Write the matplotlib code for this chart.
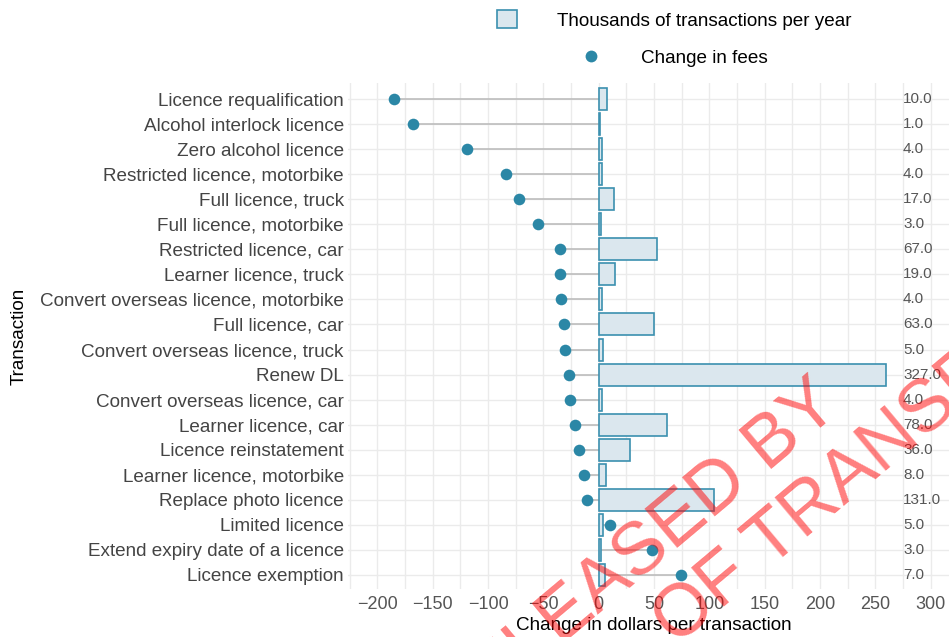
import matplotlib
matplotlib.use("Agg")
import matplotlib.pyplot as plt
from matplotlib.patches import Patch
from matplotlib.lines import Line2D

plt.rcParams["font.family"] = ["Liberation Sans", "DejaVu Sans"]

transactions = [
    "Licence requalification",
    "Alcohol interlock licence",
    "Zero alcohol licence",
    "Restricted licence, motorbike",
    "Full licence, truck",
    "Full licence, motorbike",
    "Restricted licence, car",
    "Learner licence, truck",
    "Convert overseas licence, motorbike",
    "Full licence, car",
    "Convert overseas licence, truck",
    "Renew DL",
    "Convert overseas licence, car",
    "Learner licence, car",
    "Licence reinstatement",
    "Learner licence, motorbike",
    "Replace photo licence",
    "Limited licence",
    "Extend expiry date of a licence",
    "Licence exemption",
]
fee_change = [-185, -168, -119, -84, -72, -55, -35, -35, -34, -31,
              -30, -27, -26, -21, -18, -13, -11, 10, 48, 74]
volume_k = [10, 1, 4, 4, 17, 3, 67, 19, 4, 63,
            5, 327, 4, 78, 36, 8, 131, 5, 3, 7]
x_ticks = [-200, -150, -100, -50, 0, 50, 100, 150, 200, 250, 300]

DOT = "#2b87a6"
BAR_FILL = "#dbe7ee"
BAR_EDGE = "#3b90af"
GRID = "#ebebeb"
STEM = "#bdbdbd"
FS = 13.6

fig = plt.figure(figsize=(9.49, 6.37), dpi=100)
ax = fig.add_axes([348 / 949, 48 / 637, 601 / 949, 506 / 637])

rows = list(range(len(transactions)))
xmin, xmax = -226.5, 316.5

# grid: every 25 on x, one line per row
ax.set_xticks(x_ticks)
ax.set_xticks([t + 25 for t in range(-250, 326, 50)], minor=True)
ax.grid(True, which="both", color=GRID, lw=1.0, zorder=0)
ax.set_axisbelow(True)

# stems and dots
ax.hlines(rows, 0, fee_change, color=STEM, lw=1.2, zorder=1)
ax.scatter(fee_change, rows, s=70, color=DOT, zorder=3, linewidths=0)

# volumes as text on the right
for i, v in enumerate(volume_k):
    ax.text(275, i, f"{v:.1f}", ha="left", va="center", fontsize=11, color="#555555")

ax.set_xlim(xmin, xmax)
ax.set_yticks(rows)
ax.set_yticklabels(transactions)
ax.set_ylim(19.56, -0.64)
ax.tick_params(axis="both", length=0, which="both")
ax.tick_params(axis="y", labelsize=FS, labelcolor="#444444", pad=3)
ax.tick_params(axis="x", labelsize=13, labelcolor="#555555", pad=5)
for sp in ax.spines.values():
    sp.set_visible(False)

ax.set_xlabel("Change in dollars per transaction", fontsize=FS, color="black")
ax.xaxis.set_label_coords((654 - 348) / 601, -(617 - 589) / 506)
ax.set_ylabel("Transaction", fontsize=FS, color="black")
ax.yaxis.set_label_coords(-(348 - 28) / 601, 0.5)

# bars on their own x scale: 327k lands near 260 on the fee axis
bar_scale = 0.793
ax2 = ax.twiny()
ax2.set_xlim(xmin / bar_scale, xmax / bar_scale)
ax2.barh(rows, volume_k, height=0.88, color=BAR_FILL, edgecolor=BAR_EDGE, lw=1.2, zorder=2)
ax2.set_ylim(19.56, -0.64)
ax2.set_xticks([])
for sp in ax2.spines.values():
    sp.set_visible(False)

# legend, two rows at top
fig.legend(handles=[Patch(facecolor=BAR_FILL, edgecolor=BAR_EDGE, lw=1.2)],
           labels=["Thousands of transactions per year"],
           loc="center left", bbox_to_anchor=(497 / 949, 1 - 20 / 637),
           frameon=False, fontsize=FS, handlelength=1.07, handleheight=1.1,
           handletextpad=2.1, borderpad=0, borderaxespad=0)
fig.legend(handles=[Line2D([], [], ls="", marker="o", markersize=8.5,
                           color=DOT, markeredgewidth=0)],
           labels=["Change in fees"],
           loc="center left", bbox_to_anchor=(581 / 949, 1 - 58 / 637),
           frameon=False, fontsize=FS, handlelength=1.07,
           handletextpad=2.1, borderpad=0, borderaxespad=0)

# watermark stamp
fig.text(842 / 949, 1 - 409 / 637, "RELEASED BY", fontsize=53, color="red", alpha=0.5,
         rotation=40, rotation_mode="anchor", ha="right", va="baseline", zorder=10)
fig.text(676 / 949, 1 - 647 / 637, "OF TRANSPORT", fontsize=53, color="red", alpha=0.5,
         rotation=40, rotation_mode="anchor", ha="left", va="baseline", zorder=10)

fig.savefig("out.png", dpi=100)
